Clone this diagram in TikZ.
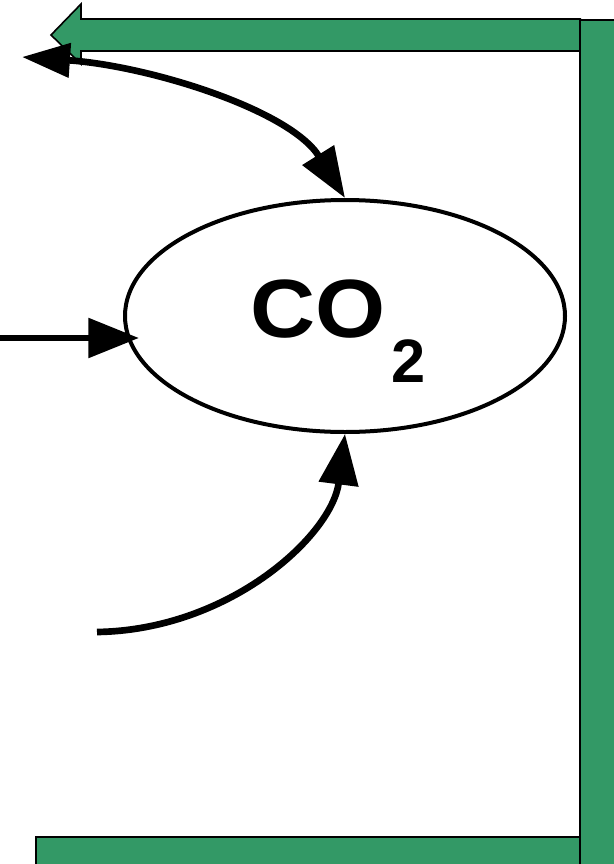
\documentclass[tikz,border=0pt]{standalone}
\usepackage{fontspec}
\setmainfont{Liberation Sans}
\usetikzlibrary{shapes.geometric,arrows.meta}
\definecolor{band}{RGB}{51,153,102}
\tikzset{
  bandshape/.style={fill=band,draw=black,line width=1.2pt},
  flow/.style={line width=5pt,-{Triangle[length=38pt,width=29pt]}},
  flowboth/.style={line width=5pt,{Triangle[length=36pt,width=25pt]}-{Triangle[length=38pt,width=27pt]}},
  gas/.style={ellipse,draw,line width=3pt,minimum width=330pt,minimum height=174pt,inner sep=0pt}
}
\begin{document}
\begin{tikzpicture}[x=0.75pt,y=-0.75pt]
\useasboundingbox (0,0) rectangle (614,864);
\clip (0,0) rectangle (614,864);
% green band
\draw[bandshape] (581,19) -- (81,19) -- (81,4) -- (51,35) -- (81,64) -- (81,51) -- (581,51);
\draw[bandshape] (36,837) rectangle (581,880);
\draw[bandshape] (580,20) rectangle (630,880);
% CO2 ellipse
\node[gas] (co2) at (345,316) {};
\node[anchor=base west,inner sep=0pt,font=\fontsize{62pt}{68pt}\selectfont\bfseries] (co2txt) at (250,337)
  {\scalebox{1.09}[1]{CO}\hspace{4.5pt}\raisebox{-33.75pt}{\fontsize{46pt}{50pt}\selectfont 2}};
% connectors
\coordinate (topleft) at (22,57);
\coordinate (leftin) at (0,338);
\coordinate (bottomin) at (97,632);
\draw[flowboth] (topleft) .. controls (150,66) and (290,110) .. (co2.north);
\draw[flow] (leftin) -- ([xshift=12pt]co2.west |- leftin);
\draw[flow] (bottomin) .. controls (230,630) and (332,535) .. (co2.south);
\end{tikzpicture}
\end{document}
